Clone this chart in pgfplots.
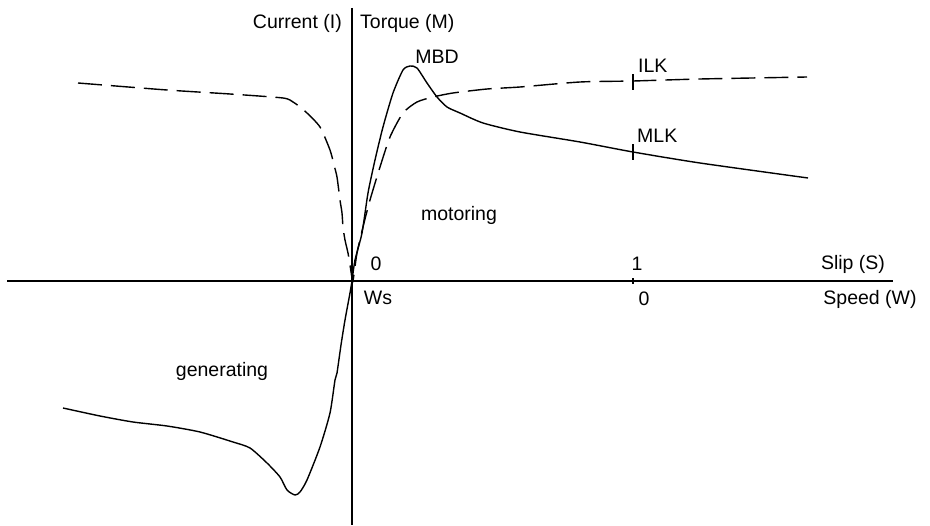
\documentclass[border=0pt]{standalone}
\usepackage{pgfplots}
\pgfplotsset{compat=1.18}
\usepackage{fontspec}
\setmainfont{Liberation Sans}
\begin{document}
\begin{tikzpicture}[lbl/.style={font=\fontsize{19.5}{23}\selectfont, inner sep=0pt, text=black}]
\begin{axis}[
  width=930pt, height=525pt, scale only axis,
  xmin=-352, xmax=578, ymin=-244, ymax=281,
  axis lines=none, ticks=none, clip=false,
]
\path[draw=none] (rel axis cs:0,0) rectangle (rel axis cs:1,1);
% axes
\addplot[black, line width=1.6pt] coordinates {(-345,0) (541,0)};
\addplot[black, line width=1.6pt] coordinates {(0,273) (0,-244)};
% ticks
\addplot[black, line width=1.2pt] coordinates {(281,-3) (281,3)};
\addplot[black, line width=1.2pt] coordinates {(281,191) (281,207)};
\addplot[black, line width=1.2pt] coordinates {(281,121) (281,137)};
% current (dashed)
\addplot[black, line width=1.4pt, smooth, tension=0.4, dash pattern=on 24pt off 9pt] coordinates {
(-274,198) (-185,191) (-122,187) (-69,183) (-59,179) (-52,174) (-45,168)
(-32,154) (-22,131) (-18,116) (-15,104) (-12,81) (-10,68) (-9,54) (-7,41)
(-4,28) (-2,16) (0,3) (1,0) (5,28) (11,54) (18,81) (28,114) (38,144)
(51,168) (65,179) (81,184) (101,188) (135,192) (168,194) (228,199)
(281,200) (348,202) (455,204)};
% torque motoring
\addplot[black, line width=1.4pt, smooth, tension=0.4] coordinates {
(0,0) (3,21) (10,48) (16,88) (23,121) (31,154) (41,188) (51,211) (58,215)
(65,213) (75,198) (85,184) (95,174) (108,168) (131,158) (168,149)
(228,139) (281,129) (348,118) (456,103)};
% torque generating
\addplot[black, line width=1.4pt, smooth, tension=0.4] coordinates {
(0,0) (-2,-12) (-7,-39) (-11,-64) (-15,-92) (-17,-99) (-22,-132)
(-32,-166) (-45,-199) (-52,-211) (-57,-214) (-65,-209) (-72,-196)
(-85,-182) (-102,-167) (-119,-161) (-152,-151) (-185,-145) (-219,-141)
(-252,-135) (-289,-127)};
% labels
\node[lbl, anchor=east] at (axis cs:-10,258) {Current (I)};
\node[lbl, anchor=west] at (axis cs:8,258) {Torque (M)};
\node[lbl] at (axis cs:85,224) {MBD};
\node[lbl, anchor=west] at (axis cs:286,215) {ILK};
\node[lbl, anchor=west] at (axis cs:285,145) {MLK};
\node[lbl] at (axis cs:107,66) {motoring};
\node[lbl] at (axis cs:-130,-90) {generating};
\node[lbl] at (axis cs:24,17) {0};
\node[lbl] at (axis cs:26,-17) {Ws};
\node[lbl] at (axis cs:285,17) {1};
\node[lbl] at (axis cs:292,-18) {0};
\node[lbl] at (axis cs:501,17) {Slip (S)};
\node[lbl] at (axis cs:518,-18) {Speed (W)};
\end{axis}
\end{tikzpicture}
\end{document}
